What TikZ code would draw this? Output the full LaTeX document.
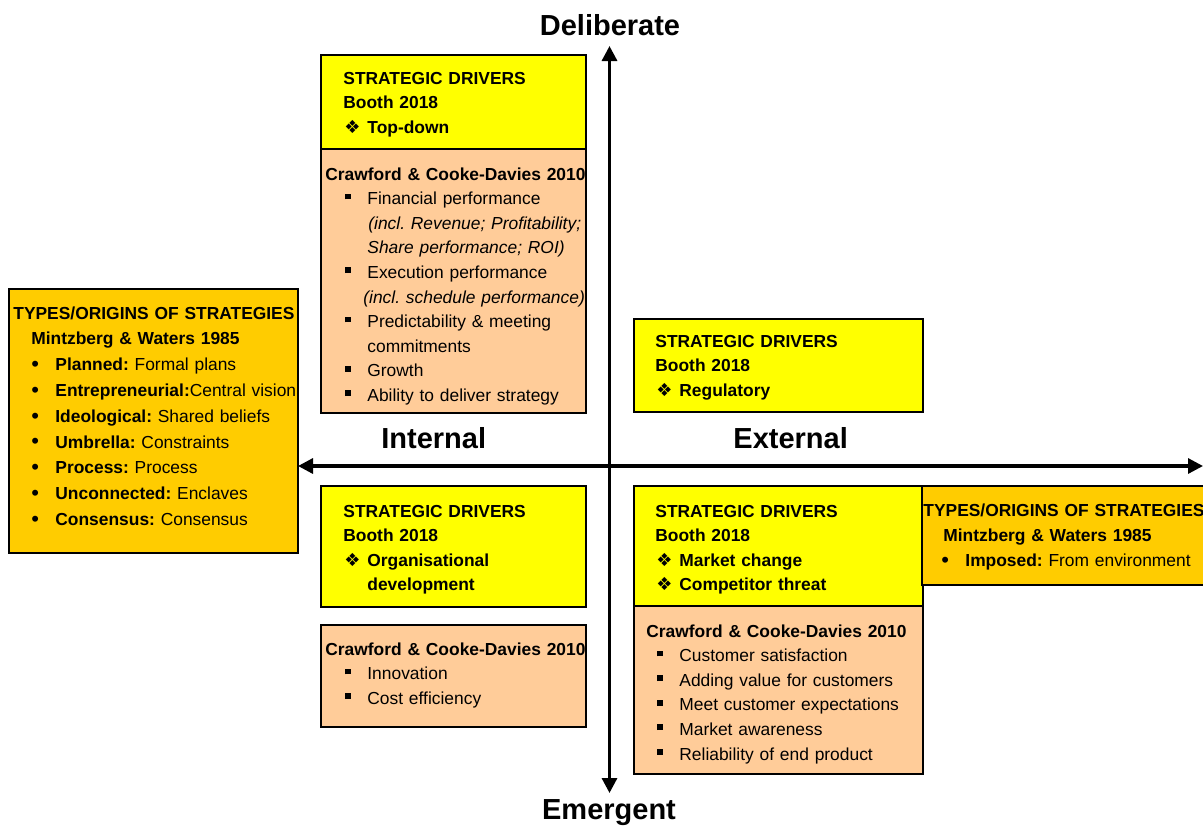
\documentclass[tikz,border=0pt]{standalone}
\usepackage{fontspec}
\setmainfont{Liberation Sans}
\newfontfamily\dejavu{DejaVu Sans}
\usetikzlibrary{arrows.meta}
\frenchspacing

\definecolor{drvyellow}{HTML}{FFFF00}
\definecolor{crwpeach}{HTML}{FFCC99}
\definecolor{typorange}{HTML}{FFCC00}

\newcommand{\sqb}{\raisebox{2.6pt}{\rule{2.9pt}{2.9pt}}}
\newcommand{\dmd}{\raisebox{0.1pt}{\dejavu\fontsize{9}{9}\selectfont ❖}}
\newcommand{\sqitem}[2][10pt]{\hspace*{#1}\makebox[11pt][l]{\sqb}#2}
\newcommand{\dmitem}[1]{\hspace*{0.5pt}\makebox[11.5pt][l]{\dmd}#1}
\newcommand{\btitem}[2]{\hspace*{9pt}\makebox[12pt][l]{\raisebox{-0.4pt}{\fontsize{11}{11}\selectfont\textbullet}}\textbf{#1}#2}

\tikzset{Box/.style={draw=black,line width=1pt,inner sep=0pt,outer sep=0pt,rectangle,anchor=north west}}
\tikzset{Drv/.style={Box,fill=drvyellow}}
\tikzset{Crw/.style={Box,fill=crwpeach}}
\tikzset{Typ/.style={Box,fill=typorange}}
\tikzset{Txt/.style={anchor=base west,inner sep=0pt,text width=160pt,align=left,font=\fontsize{8.7}{12.3}\selectfont}}
\tikzset{DrvTxt/.style={Txt,font=\fontsize{8.7}{12.3}\selectfont\bfseries}}
\tikzset{Axe/.style={line width=1.6pt,{Triangle[length=7.5pt,width=7.5pt]}-{Triangle[length=7.5pt,width=7.5pt]}}}
\tikzset{AxeLbl/.style={anchor=base,inner sep=0pt,font=\fontsize{14.5}{17}\selectfont\bfseries}}

\begin{document}
\begin{tikzpicture}[x=0.5pt,y=-0.5pt]
\useasboundingbox (0,0) rectangle (1203,825);

% boxes
\node[Drv,minimum width=132.5pt,minimum height=47pt] (dTL) at (321,55) {};
\node[Crw,minimum width=132.5pt,minimum height=132pt] (cTL) at (321,149) {};
\node[Typ,minimum width=144.5pt,minimum height=132pt] (yL) at (9,289) {};
\node[Drv,minimum width=144.5pt,minimum height=46.5pt] (dR) at (634,319) {};
\node[Drv,minimum width=132.5pt,minimum height=60.5pt] (dBL) at (321,486) {};
\node[Crw,minimum width=132.5pt,minimum height=51pt] (cBL) at (321,625) {};
\node[Drv,minimum width=144.5pt,minimum height=60pt] (dBR) at (634,486) {};
\node[Crw,minimum width=144.5pt,minimum height=84pt] (cBR) at (634,606) {};
\node[Typ,minimum width=145pt,minimum height=49.5pt] (yR) at (922,486) {};

% texts
\node[DrvTxt] (tdTL) at (343,84) {STRATEGIC DRIVERS\\Booth 2018\\\dmitem{Top-down}};
\node[Txt] (tcTL) at (325,180) {\textbf{Crawford \& Cooke-Davies 2010}\\
  \sqitem{Financial performance}\\
  \hspace*{21.5pt}\textit{(incl. Revenue; Profitability;}\\
  \hspace*{21pt}\textit{Share performance; ROI)}\\
  \sqitem{Execution performance}\\
  \hspace*{19pt}\textit{(incl. schedule performance)}\\
  \sqitem{Predictability \& meeting}\\
  \hspace*{21pt}commitments\\
  \sqitem{Growth}\\
  \sqitem{Ability to deliver strategy}};
\node[Txt,font=\fontsize{8.7}{12.9}\selectfont] (tyL) at (13,319) {\textbf{TYPES/ORIGINS OF STRATEGIES}\\
  \hspace*{9pt}\textbf{Mintzberg \& Waters 1985}\\
  \btitem{Planned:}{ Formal plans}\\
  \btitem{Entrepreneurial:}{Central vision}\\
  \btitem{Ideological:}{ Shared beliefs}\\
  \btitem{Umbrella:}{ Constraints}\\
  \btitem{Process:}{ Process}\\
  \btitem{Unconnected:}{ Enclaves}\\
  \btitem{Consensus:}{ Consensus}};
\node[DrvTxt] (tdR) at (655,347) {STRATEGIC DRIVERS\\Booth 2018\\\dmitem{Regulatory}};
\node[DrvTxt] (tdBL) at (343,517) {STRATEGIC DRIVERS\\Booth 2018\\\dmitem{Organisational}\\\hspace*{12pt}development};
\node[Txt] (tcBL) at (325,655) {\textbf{Crawford \& Cooke-Davies 2010}\\
  \sqitem{Innovation}\\
  \sqitem{Cost efficiency}};
\node[DrvTxt] (tdBR) at (655,517) {STRATEGIC DRIVERS\\Booth 2018\\\dmitem{Market change}\\\dmitem{Competitor threat}};
\node[Txt] (tcBR) at (646,637) {\textbf{Crawford \& Cooke-Davies 2010}\\
  \sqitem[5.5pt]{Customer satisfaction}\\
  \sqitem[5.5pt]{Adding value for customers}\\
  \sqitem[5.5pt]{Meet customer expectations}\\
  \sqitem[5.5pt]{Market awareness}\\
  \sqitem[5.5pt]{Reliability of end product}};
\node[Txt,font=\fontsize{8.7}{12.7}\selectfont] (tyR) at (923,516) {\textbf{TYPES/ORIGINS OF STRATEGIES}\\
  \hspace*{10pt}\textbf{Mintzberg \& Waters 1985}\\
  \btitem{Imposed:}{ From environment}};

% axes
\coordinate (axN) at (609.5,46);
\coordinate (axS) at (609.5,793);
\coordinate (axW) at (298,466);
\coordinate (axE) at (1203,466);
\draw[Axe] (axS) -- (axN);
\draw[Axe] (axW) -- (axE);

\node[AxeLbl] (lDel) at (610,35) {Deliberate};
\node[AxeLbl] (lEme) at (609,819) {Emergent};
\node[AxeLbl,anchor=base west] (lInt) at (381,448) {Internal};
\node[AxeLbl,anchor=base west] (lExt) at (733,448) {External};

\end{tikzpicture}
\end{document}
